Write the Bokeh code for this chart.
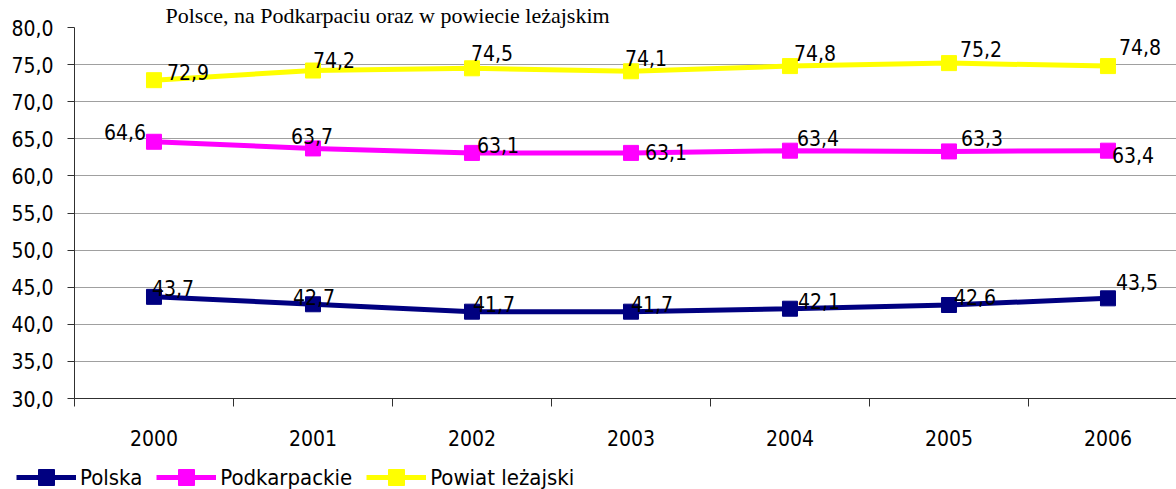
from bokeh.plotting import figure
from bokeh.layouts import column, row
from bokeh.models import (Range1d, FixedTicker, CustomJSTickFormatter, ColumnDataSource,
                          Legend, LegendItem)
from bokeh.core.properties import value
from bokeh.embed import file_html
from bokeh.resources import INLINE

# ---------------- data ----------------
years = ["2000", "2001", "2002", "2003", "2004", "2005", "2006"]
polska = [43.7, 42.7, 41.7, 41.7, 42.1, 42.6, 43.5]
podkarpackie = [64.6, 63.7, 63.1, 63.1, 63.4, 63.3, 63.4]
powiat = [72.9, 74.2, 74.5, 74.1, 74.8, 75.2, 74.8]
series_names = ["Polska", "Podkarpackie", "Powiat leżajski"]
title_text = "Polsce, na Podkarpaciu oraz w powiecie leżajskim"

# label placement (pixel offsets from the marker: left edge / baseline)
dx_polska = [-2, -20, 1, 0, 8, 5, 8]
dy_polska = [-9, -7, -8, -8, -8, -8, -16]
dx_podk = [-50, -22, 5, 14, 7, 12, 4]
dy_podk = [-10, -12, -8, -1, -13, -13, 4]
dx_pow = [13, 0, -1, -6, 4, 11, 11]
dy_pow = [-8, -11, -15, -13, -13, -14, -19]

colors = ["#000080", "#FF00FF", "#FFFF00"]
FONT = "DejaVu Sans Condensed"

xs = list(range(len(years)))

p = figure(width=1176, height=462, output_backend="svg", toolbar_location=None,
           title=title_text,
           x_range=Range1d(-0.5, 6.431), y_range=Range1d(30, 80),
           min_border_left=74, min_border_right=0, min_border_top=26, min_border_bottom=64)
p.outline_line_color = None
p.background_fill_color = "white"
p.border_fill_color = "white"

p.title.align = "left"
p.title.offset = 91
p.title.standoff = 0
p.title.vertical_align = "bottom"
p.title.text_font = "Liberation Serif"
p.title.text_font_size = "22px"
p.title.text_font_style = "normal"
p.title.text_color = "black"

# grid
p.xgrid.grid_line_color = None
p.ygrid.grid_line_color = "#a0a0a0"
p.ygrid.grid_line_width = 1

# y axis
yax = p.yaxis[0]
yax.ticker = FixedTicker(ticks=[30, 35, 40, 45, 50, 55, 60, 65, 70, 75, 80])
yax.formatter = CustomJSTickFormatter(code="return tick.toFixed(1).replace('.', ',');")
yax.axis_line_color = "#303030"
yax.major_tick_line_color = "#303030"
yax.major_tick_out = 7
yax.major_tick_in = 0
yax.minor_tick_line_color = None
yax.major_label_standoff = 14
yax.major_label_text_font = FONT
yax.major_label_text_font_size = "21px"
yax.major_label_text_color = "black"

# x axis
xax = p.xaxis[0]
xax.ticker = FixedTicker(ticks=xs, minor_ticks=[i - 0.5 for i in range(len(years) + 1)])
xax.formatter = CustomJSTickFormatter(args=dict(labels=years),
                                      code="const i = Math.round(tick); return labels[i] || '';")
xax.axis_line_color = "#303030"
xax.major_tick_line_color = None
xax.major_tick_out = 0
xax.major_tick_in = 0
xax.minor_tick_line_color = "#303030"
xax.minor_tick_out = 8
xax.minor_tick_in = 0
xax.major_label_standoff = 23
xax.major_label_text_font = FONT
xax.major_label_text_font_size = "21px"
xax.major_label_text_color = "black"

# legend strip (separate small figure below the chart; series there lie outside its view)
pl = figure(width=1176, height=27, output_backend="svg", toolbar_location=None,
            x_range=Range1d(100, 101), y_range=Range1d(100, 101),
            x_axis_location=None, y_axis_location=None,
            min_border_left=0, min_border_right=0, min_border_top=0, min_border_bottom=0)
pl.outline_line_color = None
pl.xgrid.grid_line_color = None
pl.ygrid.grid_line_color = None

# series
items = []
all_x, all_y, all_t, all_dx, all_dy = [], [], [], [], []
for name, vals, col, dxs, dys in zip(series_names, [polska, podkarpackie, powiat], colors,
                                     [dx_polska, dx_podk, dx_pow], [dy_polska, dy_podk, dy_pow]):
    src = ColumnDataSource(dict(x=xs, y=vals))
    p.line("x", "y", source=src, line_color=col, line_width=5)
    p.scatter("x", "y", source=src, marker="square", size=15, fill_color=col, line_color=col)
    lr = pl.line("x", "y", source=src, line_color=col, line_width=5)
    sr = pl.scatter("x", "y", source=src, marker="square", size=15, fill_color=col, line_color=col)
    items.append(LegendItem(label=name, renderers=[lr, sr]))
    all_x += xs
    all_y += vals
    all_t += [f"{v:.1f}".replace(".", ",") for v in vals]
    all_dx += dxs
    all_dy += dys

lab_src = ColumnDataSource(dict(x=all_x, y=all_y, t=all_t, dx=all_dx, dy=all_dy))
p.text("x", "y", text="t", source=lab_src, x_offset="dx", y_offset="dy",
       text_font=value(FONT), text_font_size="21px", text_color="black",
       text_align="left", text_baseline="alphabetic")

legend = Legend(items=items, orientation="horizontal", location=(16, -8),
                glyph_width=60, glyph_height=40, label_standoff=4, spacing=14,
                padding=0, margin=0, border_line_color=None, background_fill_alpha=0,
                label_text_font=FONT, label_text_font_size="22px", label_text_color="black")
pl.add_layout(legend, "center")

layout = column(p, row(pl, spacing=0), spacing=0)
open("out.html", "w").write(file_html(layout, INLINE))
